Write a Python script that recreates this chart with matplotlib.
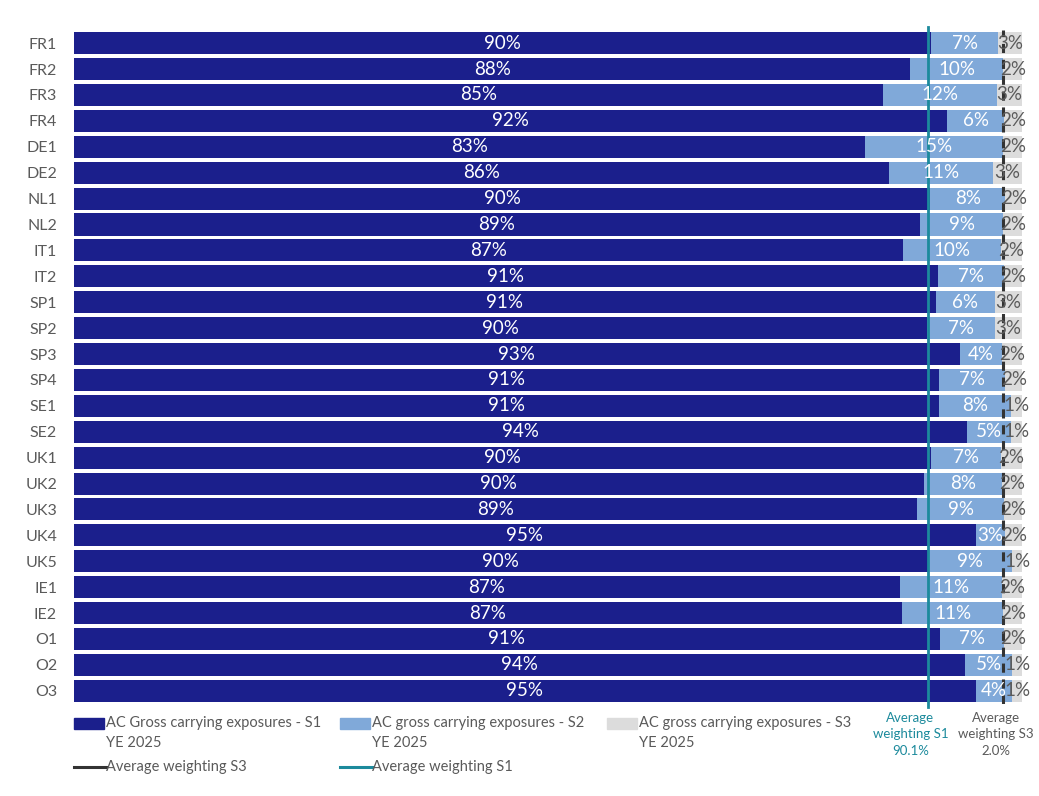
import numpy as np
import matplotlib
matplotlib.use('Agg')
from matplotlib import pyplot as plt
from matplotlib.patches import Rectangle
from matplotlib.lines import Line2D

plt.rcParams['font.family'] = ['Lato', 'DejaVu Sans']

entities = ['FR1', 'FR2', 'FR3', 'FR4', 'DE1', 'DE2', 'NL1', 'NL2', 'IT1', 'IT2',
            'SP1', 'SP2', 'SP3', 'SP4', 'SE1', 'SE2', 'UK1', 'UK2', 'UK3', 'UK4',
            'UK5', 'IE1', 'IE2', 'O1', 'O2', 'O3']
s1 = [90.4, 88.2, 85.3, 92.1, 83.4, 85.9, 90.3, 89.2, 87.4, 91.1,
      90.9, 89.9, 93.4, 91.2, 91.2, 94.2, 90.4, 89.6, 88.9, 95.1,
      90.0, 87.1, 87.3, 91.3, 94.0, 95.1]
s2 = [7.0, 9.8, 12.0, 6.0, 14.6, 11.0, 7.9, 8.8, 10.3, 7.0,
      6.2, 7.2, 4.4, 7.0, 7.6, 4.6, 7.3, 8.3, 9.2, 3.1,
      8.9, 10.8, 10.7, 6.8, 4.9, 3.8]
s3 = [2.6, 2.0, 2.7, 1.9, 2.0, 3.1, 1.8, 2.0, 2.3, 1.9,
      2.9, 2.9, 2.2, 1.8, 1.2, 1.2, 2.3, 2.1, 1.9, 1.8,
      1.1, 2.1, 2.0, 1.9, 1.1, 1.1]
avg_s1 = 90.1
avg_s3 = 2.0

c_s1 = '#1b1f8c'
c_s2 = '#80a9d9'
c_s3 = '#dcdcdc'
c_teal = '#1c8a9c'
c_dash = '#333333'
c_text = '#5a5a5a'

fig = plt.figure(figsize=(10.39, 7.96), dpi=100)
ax = fig.add_axes([0.071, 0.116, 0.913, 0.846])

y = np.arange(len(entities))
s1 = np.array(s1)
s2 = np.array(s2)
s3 = np.array(s3)

ax.barh(y, s1, height=0.85, color=c_s1)
ax.barh(y, s2, left=s1, height=0.85, color=c_s2)
ax.barh(y, s3, left=s1 + s2, height=0.85, color=c_s3)

for i in range(len(entities)):
    ax.text(s1[i] / 2, y[i], f'{s1[i]:.0f}%', ha='center', va='center',
            color='white', fontsize=13.5)
    ax.text(s1[i] + s2[i] / 2, y[i], f'{s2[i]:.0f}%', ha='center', va='center',
            color='white', fontsize=13.5)
    ax.text(s1[i] + s2[i] + s3[i] / 2, y[i], f'{s3[i]:.0f}%', ha='center', va='center',
            color=c_text, fontsize=13.5)

ax.axvline(avg_s1, ymin=-0.005, ymax=1.005, color=c_teal, lw=2, clip_on=False)
ax.axvline(100 - avg_s3, color=c_dash, lw=2.2, ls=(0, (3, 2.2)))

ax.set_xlim(0, 100)
ax.set_ylim(len(entities) - 0.5, -0.5)
ax.set_yticks(y)
ax.set_yticklabels(entities, color=c_text, fontsize=11.5)
ax.set_xticks([])
ax.tick_params(axis='y', length=0, pad=12)
for sp in ax.spines.values():
    sp.set_visible(False)

# annotations under the lines
xt = ax.get_xaxis_transform()
ax.text(avg_s1 - 1.9, -0.012, 'Average\nweighting S1\n90.1%', transform=xt,
        ha='center', va='top', color=c_teal, fontsize=9.5, linespacing=1.45)
ax.text(100 - avg_s3 - 0.8, -0.012, 'Average\nweighting S3\n2.0%', transform=xt,
        ha='center', va='top', color=c_text, fontsize=9.5, linespacing=1.45)

# legend drawn by hand
W, H = 1039, 796
leg_items = [
    (74, c_s1, 'AC Gross carrying exposures - S1\nYE 2025'),
    (340, c_s2, 'AC gross carrying exposures - S2\nYE 2025'),
    (607, c_s3, 'AC gross carrying exposures - S3\nYE 2025'),
]
for x0, col, lab in leg_items:
    fig.add_artist(Rectangle((x0 / W, 1 - 729 / H), 30 / W, 11 / H,
                             transform=fig.transFigure, color=col))
    fig.text((x0 + 32) / W, 1 - 716 / H, lab, ha='left', va='top',
             fontsize=10.5, color=c_text, linespacing=1.55)
for x0, col, lab in [(74, c_dash, 'Average weighting S3'), (340, c_teal, 'Average weighting S1')]:
    fig.add_artist(Line2D([x0 / W, (x0 + 32) / W], [1 - 767 / H, 1 - 767 / H],
                          transform=fig.transFigure, color=col, lw=2.2))
    fig.text((x0 + 32) / W, 1 - 767 / H, lab, ha='left', va='center',
             fontsize=10.5, color=c_text)

fig.savefig('out.png', dpi=100, facecolor='white')
